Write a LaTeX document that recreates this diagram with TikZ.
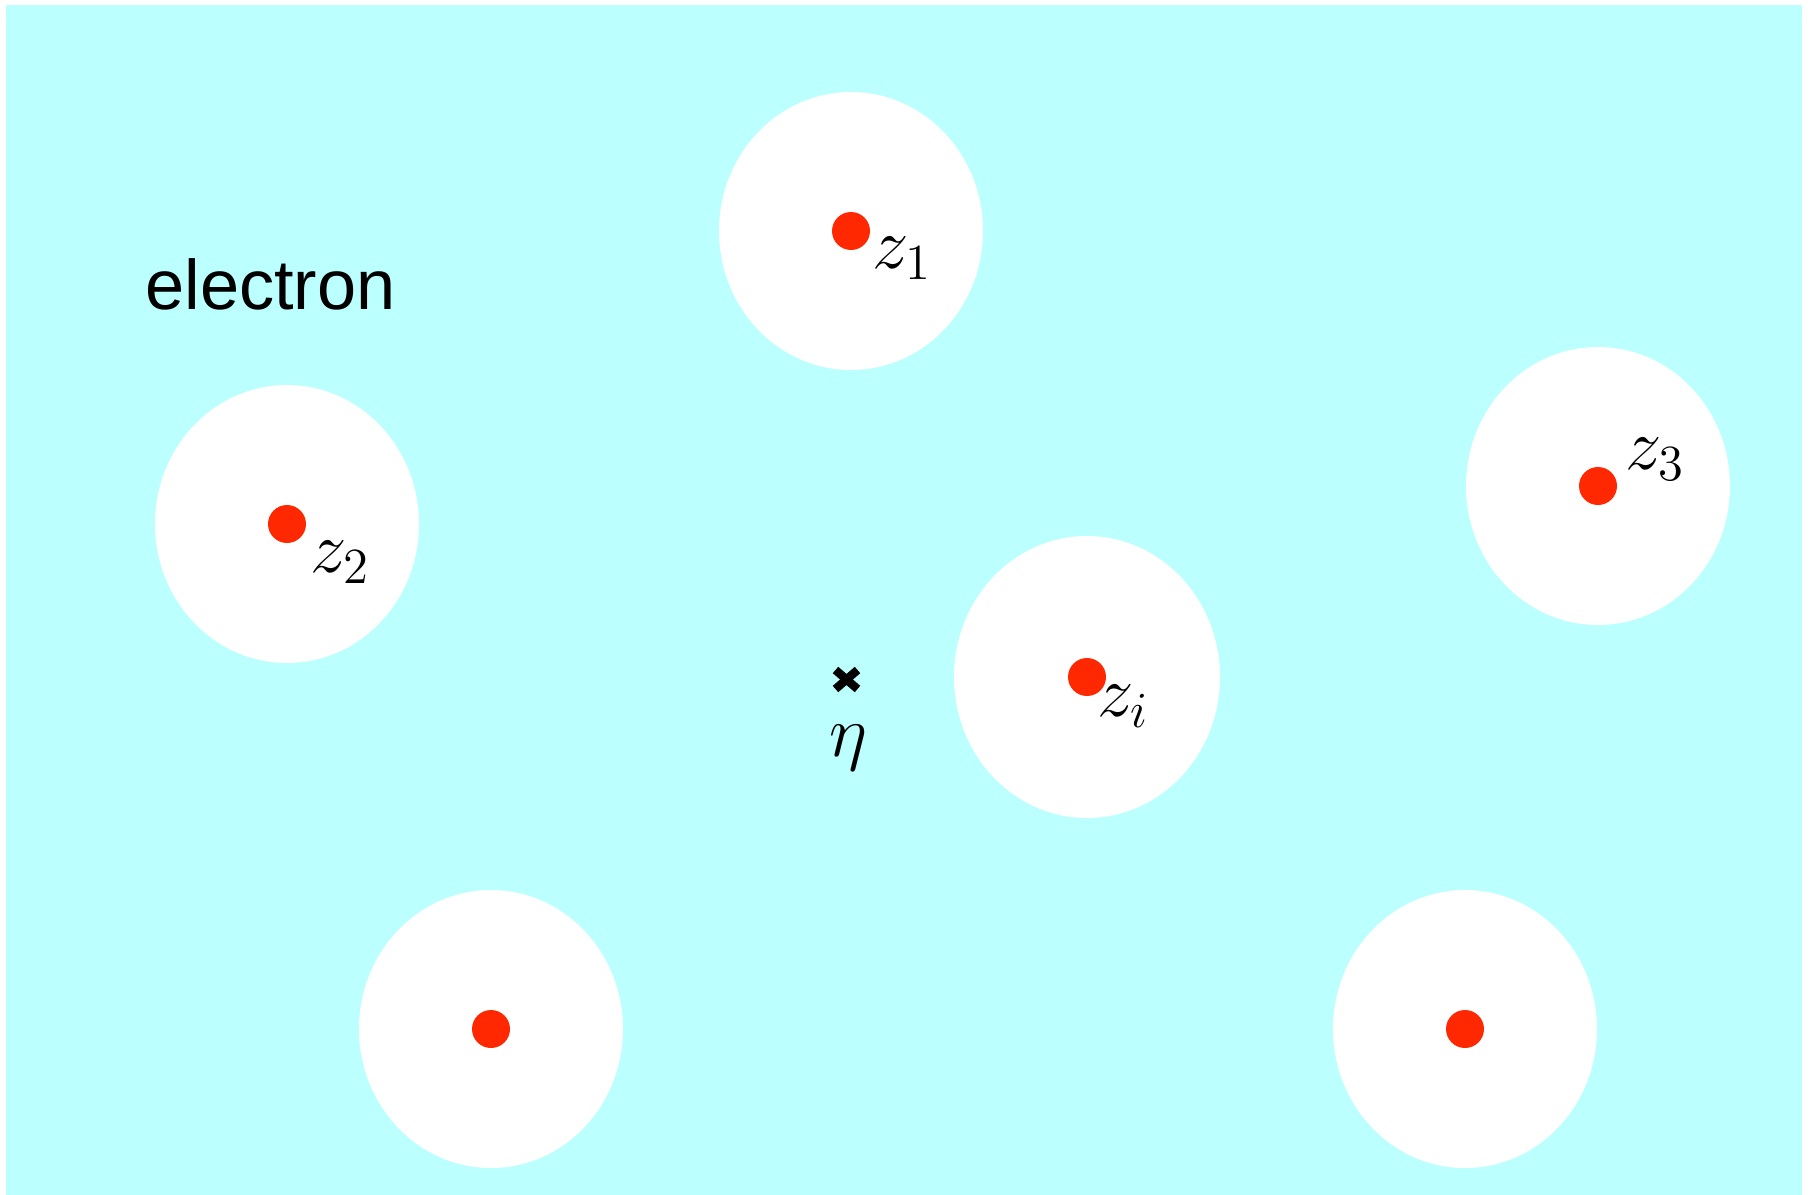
\documentclass[tikz,border=0pt]{standalone}
\usepackage{fontspec}
\usepackage{tikz}
\newfontfamily\electronfont{Liberation Sans}
\definecolor{seacyan}{RGB}{187,255,255}
\definecolor{dotred}{RGB}{255,40,0}

\begin{document}
\begin{tikzpicture}[
    hole/.style={fill=white},
    charge/.style={fill=dotred},
    zlabel/.style={inner sep=0pt, font=\fontsize{21}{25}\selectfont}
  ]
  \useasboundingbox (0,0) rectangle (18.12,-11.95);
  \fill[seacyan] (0.06,-0.05) rectangle (18.02,-11.95);
  \coordinate (Z1) at (8.51,-2.31);
  \coordinate (Z2) at (2.87,-5.24);
  \coordinate (Z3) at (15.98,-4.86);
  \coordinate (Zi) at (10.87,-6.77);
  \coordinate (Z5) at (4.91,-10.29);
  \coordinate (Z6) at (14.65,-10.29);
  \coordinate (Eta) at (8.465,-6.795);
  \fill[hole] (Z1) ellipse (1.32 and 1.39);
  \fill[hole] (Z2) ellipse (1.32 and 1.39);
  \fill[hole] (Z3) ellipse (1.32 and 1.39);
  \fill[hole] (Zi) ellipse (1.33 and 1.41);
  \fill[hole] (Z5) ellipse (1.32 and 1.39);
  \fill[hole] (Z6) ellipse (1.32 and 1.39);
  \fill[charge] (Z1) circle (0.19);
  \fill[charge] (Z2) circle (0.19);
  \fill[charge] (Z3) circle (0.19);
  \fill[charge] (Zi) circle (0.19);
  \fill[charge] (Z5) circle (0.19);
  \fill[charge] (Z6) circle (0.19);
  \draw[line width=2.4pt] (Eta) ++(-0.11,-0.095) -- ++(0.22,0.19);
  \draw[line width=2.4pt] (Eta) ++(-0.11,0.095) -- ++(0.22,-0.19);
  \node[zlabel] (L1) at (9.02,-2.58) {$z_1$};
  \node[zlabel] (L2) at (3.40,-5.62) {$z_2$};
  \node[zlabel] (L3) at (16.55,-4.59) {$z_3$};
  \node[zlabel] (Li) at (11.23,-7.06) {$z_i$};
  \node[zlabel] (LEta) at (8.48,-7.48) {$\eta$};
  \node[font=\electronfont\fontsize{20}{24}\selectfont, inner sep=0pt] (Elec) at (2.705,-2.84) {electron};
\end{tikzpicture}
\end{document}
